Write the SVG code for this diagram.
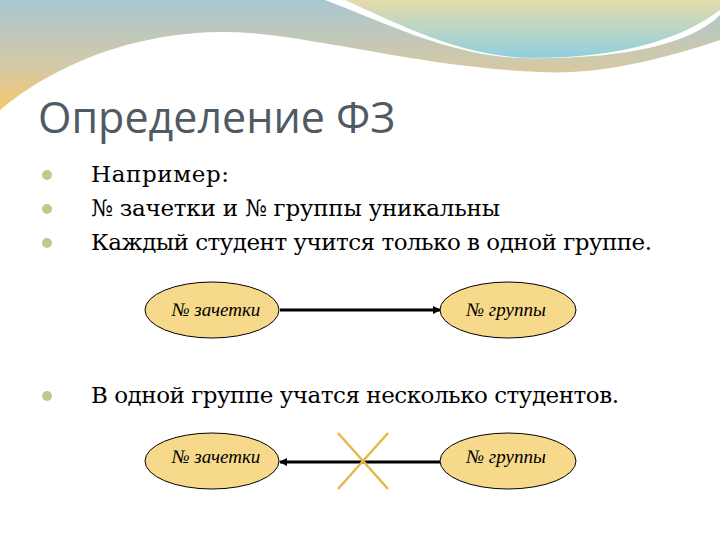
<svg xmlns="http://www.w3.org/2000/svg" width="720" height="540" viewBox="0 0 720 540">
<defs>
<linearGradient id="lg" x1="0" y1="0" x2="0" y2="1"><stop offset="0" stop-color="#a9c6d1"/><stop offset="0.6" stop-color="#d4c9a6"/><stop offset="1" stop-color="#f5c86a"/></linearGradient>
<linearGradient id="rg" x1="0" y1="0" x2="0" y2="1"><stop offset="0" stop-color="#e5dbab"/><stop offset="1" stop-color="#8fcfdf"/></linearGradient>
<marker id="ah" markerWidth="8" markerHeight="8" refX="7" refY="4" orient="auto" markerUnits="userSpaceOnUse"><path d="M0,0 L8,4 L0,8 z" fill="#000"/></marker>
<style>
.b{font-family:"DejaVu Serif",serif;font-size:23px;fill:#000}
.n{font-family:"Liberation Serif","DejaVu Serif",serif;font-size:19px;font-style:italic;fill:#000}
.e{fill:#f6d98a;stroke:#000;stroke-width:1}
.dot{fill:#b9cc8e}
</style>
</defs>
<rect width="720" height="540" fill="#fff"/>
<path d="M0,0 H720 V40 C660,60 600,75 540,72 C430,68 330,40 250,33 C150,26 60,60 0,110 Z" fill="url(#lg)"/>
<path d="M325,0 H720 V15 C690,45 620,60 520,58 C450,55 390,25 325,0 Z" fill="#fff"/>
<path d="M345,0 H720 V10 C680,40 620,58 530,58 C460,56 400,25 345,0 Z" fill="url(#rg)"/>
<path d="M0,122 C60,60 160,32 250,38 C330,44 430,70 540,74 C610,76 670,60 720,42 V540 H0 Z" fill="#fff"/>
<text x="38" y="133" font-family="'Open Sans','DejaVu Sans',sans-serif" font-size="43" fill="#505a62">Определение ФЗ</text>
<circle class="dot" cx="47" cy="175" r="5"/><circle class="dot" cx="47" cy="209" r="5"/><circle class="dot" cx="47" cy="243" r="5"/><circle class="dot" cx="47" cy="396" r="5"/>
<text class="b" x="91" y="182" textLength="138">Например:</text>
<text class="b" x="91" y="216" textLength="409">№ зачетки и № группы уникальны</text>
<text class="b" x="91" y="250" textLength="561">Каждый студент учится только в одной группе.</text>
<text class="b" x="91" y="403" textLength="528">В одной группе учатся несколько студентов.</text>
<g id="connectors" stroke="#000" stroke-width="3">
<line x1="280" y1="310" x2="440" y2="310" marker-end="url(#ah)"/>
<line x1="440" y1="462" x2="280" y2="462" marker-end="url(#ah)"/>
</g>
<g id="cross" stroke="#e6b84a" stroke-width="2.5"><line x1="338" y1="433" x2="388" y2="489"/><line x1="388" y1="433" x2="338" y2="489"/></g>
<g id="n1"><ellipse class="e" cx="212" cy="310" rx="67" ry="28"/><text class="n" x="216" y="316" text-anchor="middle">№ зачетки</text></g>
<g id="n2"><ellipse class="e" cx="508" cy="310" rx="68" ry="28"/><text class="n" x="506" y="316" text-anchor="middle">№ группы</text></g>
<g id="n3"><ellipse class="e" cx="212" cy="461" rx="67" ry="28"/><text class="n" x="216" y="463" text-anchor="middle">№ зачетки</text></g>
<g id="n4"><ellipse class="e" cx="508" cy="461" rx="68" ry="28"/><text class="n" x="506" y="463" text-anchor="middle">№ группы</text></g>
</svg>
